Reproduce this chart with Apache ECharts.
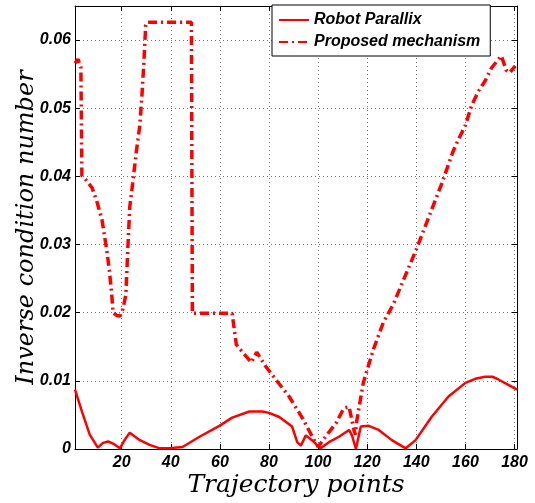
<!DOCTYPE html>
<html>
<head>
<meta charset="utf-8">
<script src="https://cdn.jsdelivr.net/npm/echarts@6/dist/echarts.min.js"></script>
<style>
  html, body { margin: 0; padding: 0; background: #fff; }
  #chart { width: 535px; height: 503px; }
</style>
</head>
<body>
<div id="chart"></div>
<script>
// x range of the trajectory, y range of the index
const xRange = [1, 181]
const yRange = [0, 0.065]
const xSplits = 9
const yStep = 0.01

const seriesNames = ['Robot Parallix', 'Proposed mechanism']

// Robot Parallix (solid)
const parallixX = [1, 4, 7, 10.3, 12.4, 14.5, 16.5, 19.3, 21, 23.3, 27.4, 31.4, 35.5, 39.5, 44.8,
  51.7, 59.8, 65, 72, 77.3, 80, 84.2, 89.4, 91.5, 93, 95, 97.5, 101, 104.4, 108.5,
  112.6, 113.8, 115.4, 117.4, 120.6, 124.7, 130, 135.7, 139.7, 146.2, 153.1, 160,
  164, 168, 171, 173.4, 177.5, 181]
const parallixY = [0.0087, 0.0053, 0.0021, 0.0002, 0.0009, 0.0011, 0.0008, 0.0001, 0.0012, 0.0024,
  0.0013, 0.0006, 0.0001, 0.0001, 0.0003, 0.0018, 0.0034, 0.0046, 0.0055, 0.0055,
  0.0053, 0.0047, 0.0033, 0.0010, 0.0005, 0.0020, 0.0013, 0.0001, 0.0010, 0.0018,
  0.0028, 0.0020, 0.0000, 0.0033, 0.0034, 0.0028, 0.0013, 0.0001, 0.0013, 0.0047,
  0.0077, 0.0097, 0.0103, 0.0106, 0.0106, 0.0102, 0.0094, 0.0087]

// Proposed mechanism (dash-dot)
const proposedX = [1, 2.2, 3.4, 3.8, 5, 8, 10, 12, 14, 15, 16, 16.5, 18, 19.3, 20.5, 21.7,
  22.5, 23.3, 24.5, 26, 27.4, 28.2, 29, 29.8, 30.2, 48.4, 48.8, 65, 66.7, 70, 72.8,
  75, 78.7, 83.4, 88.2, 93.5, 98.4, 100, 103, 107.3, 110.5, 112.6, 114.6, 115.2,
  115.6, 118.4, 122.5, 126.6, 130.6, 140, 150, 155, 157.4, 160, 162.5, 165.3, 168,
  170.6, 174.6, 176.6, 178, 180.3]
const proposedY = [0.0566, 0.0572, 0.0560, 0.0401, 0.0397, 0.0383, 0.0362, 0.0336, 0.0290,
  0.0262, 0.0225, 0.0200, 0.0196, 0.0195, 0.0205, 0.0226, 0.0293, 0.0355, 0.0390,
  0.0437, 0.0475, 0.0515, 0.0564, 0.0622, 0.0626, 0.0626, 0.0199, 0.0199, 0.0153,
  0.0139, 0.0127, 0.0142, 0.0121, 0.0099, 0.0077, 0.0046, 0.0013, 0.0003, 0.0018,
  0.0038, 0.0060, 0.0062, 0.0028, 0.0021, 0.0038, 0.0097, 0.0146, 0.0186, 0.0212,
  0.0293, 0.0386, 0.0437, 0.0456, 0.0475, 0.0504, 0.0525, 0.0540, 0.0559, 0.0577,
  0.0556, 0.0552, 0.0562]

const zip = (xs, ys) => xs.map((x, i) => [x, ys[i]])

const tickFont = {
  fontFamily: 'Liberation Sans',
  fontWeight: 'bold',
  fontStyle: 'italic',
  fontSize: 16,
  color: '#000'
}
const titleFont = {
  fontFamily: 'DejaVu Serif',
  fontStyle: 'italic',
  fontSize: 24,
  color: '#000'
}
const gridLine = {
  show: true,
  lineStyle: { color: '#777', type: [1, 3], width: 1 }
}
const frameLine = { show: true, onZero: false, lineStyle: { color: '#000', width: 1 } }
const innerTick = { show: true, inside: true, length: 5, lineStyle: { color: '#000' } }

const onStep = (v, step) => Math.abs(v / step - Math.round(v / step)) < 1e-6

const chart = echarts.init(document.getElementById('chart'), null, { renderer: 'canvas' })

chart.setOption({
  animation: false,
  backgroundColor: '#fff',
  grid: { left: 75, right: 18, top: 6, bottom: 54, outerBoundsMode: 'none' },
  legend: {
    orient: 'vertical',
    left: 272,
    top: 5,
    padding: [7, 10, 6, 6],
    itemGap: 6,
    itemWidth: 30,
    itemHeight: 14,
    borderColor: '#000',
    borderWidth: 1,
    backgroundColor: '#fff',
    itemStyle: { opacity: 0 },
    textStyle: tickFont,
    data: seriesNames
  },
  xAxis: [
    {
      type: 'value',
      min: xRange[0],
      max: xRange[1],
      splitNumber: xSplits,
      position: 'bottom',
      axisLine: frameLine,
      axisTick: innerTick,
      splitLine: gridLine,
      axisLabel: {
        ...tickFont,
        margin: 6,
        showMinLabel: false,
        showMaxLabel: false,
        formatter: v => onStep(v, 20) ? String(v) : ''
      },
      name: 'Trajectory points',
      nameLocation: 'middle',
      nameGap: 24,
      nameMoveOverlap: false,
      nameTextStyle: { ...titleFont, fontSize: 25 }
    },
    {
      type: 'value',
      min: xRange[0],
      max: xRange[1],
      splitNumber: xSplits,
      position: 'top',
      axisLine: frameLine,
      axisTick: innerTick,
      axisLabel: { show: false },
      splitLine: { show: false }
    }
  ],
  yAxis: [
    {
      type: 'value',
      min: yRange[0],
      max: yRange[1],
      interval: yStep,
      position: 'left',
      axisLine: frameLine,
      axisTick: innerTick,
      splitLine: gridLine,
      axisLabel: {
        ...tickFont,
        margin: 4,
        formatter: v => v === 0 ? '0' : (onStep(v, yStep) ? v.toFixed(2) : '')
      },
      name: 'Inverse condition number',
      nameLocation: 'middle',
      nameGap: 36,
      nameMoveOverlap: false,
      nameTextStyle: titleFont
    },
    {
      type: 'value',
      min: yRange[0],
      max: yRange[1],
      interval: yStep,
      position: 'right',
      axisLine: frameLine,
      axisTick: innerTick,
      axisLabel: { show: false },
      splitLine: { show: false }
    }
  ],
  series: [
    {
      name: seriesNames[0],
      type: 'line',
      data: zip(parallixX, parallixY),
      symbol: 'none',
      lineStyle: { color: '#ff0000', width: 2.5 },
      itemStyle: { color: '#ff0000' },
      z: 3
    },
    {
      name: seriesNames[1],
      type: 'line',
      data: zip(proposedX, proposedY),
      symbol: 'none',
      lineStyle: { color: '#ff0000', width: 3.5, type: [9, 4, 2, 4] },
      itemStyle: { color: '#ff0000' },
      z: 2
    }
  ]
})
</script>
</body>
</html>
